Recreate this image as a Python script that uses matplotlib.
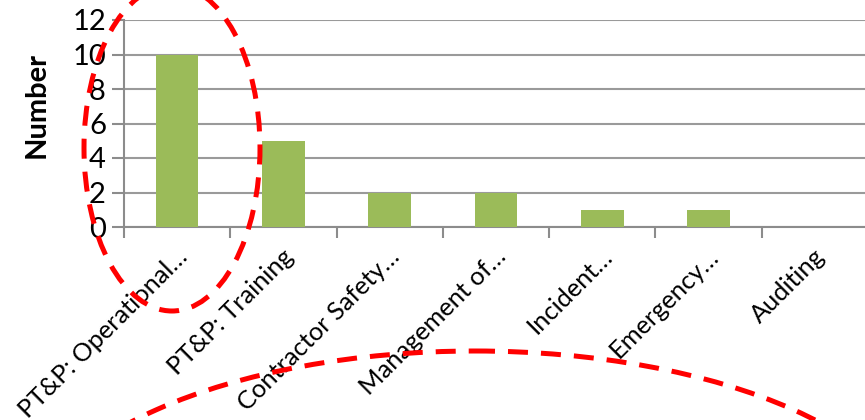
import matplotlib
matplotlib.use("Agg")
import matplotlib.pyplot as plt
import matplotlib.transforms as mtransforms
from matplotlib.patches import Ellipse

categories = ["PT&P: Operational…", "PT&P: Training", "Contractor Safety…",
              "Management of…", "Incident…", "Emergency…", "Auditing"]
counts = [10, 5, 2, 2, 1, 1, 0]
yticks = [0, 2, 4, 6, 8, 10, 12]

plt.rcParams['font.family'] = ['Lato', 'DejaVu Sans']

W, H = 865, 420
fig = plt.figure(figsize=(W / 100, H / 100), dpi=100)
ax = fig.add_axes([124 / W, (H - 227) / H, 744 / W, 207 / H])

x = list(range(len(categories)))
ax.bar(x, counts, width=0.4, color="#9BBB59", zorder=3)

ax.set_xlim(-0.5, len(categories) - 0.5)
ax.set_ylim(0, 12)
ax.set_yticks(yticks)
ax.tick_params(axis="y", labelsize=21, length=9, width=1.5, color="#8C8C8C", pad=4)
ax.yaxis.grid(True, color="#9A9A9A", linewidth=1.5, zorder=0)

ax.set_xticks(x)
ax.set_xticklabels(categories, rotation=45, ha="right", va="top",
                   rotation_mode="anchor", fontsize=18.3)
ax.tick_params(axis="x", which="major", length=0, pad=9)
ax.set_xticks([i - 0.5 for i in range(len(categories) + 1)], minor=True)
ax.tick_params(axis="x", which="minor", length=8, width=1.5, color="#8C8C8C")
shift = mtransforms.ScaledTranslation(-2 / 100, -5 / 100, fig.dpi_scale_trans)
for lab in ax.get_xticklabels():
    lab.set_transform(lab.get_transform() + shift)

for s in ["top", "right"]:
    ax.spines[s].set_visible(False)
for s in ["left", "bottom"]:
    ax.spines[s].set_color("#8C8C8C")
    ax.spines[s].set_linewidth(1.5)

ax.set_ylabel("Number", fontsize=21, fontweight="bold", va="center")
ax.yaxis.set_label_coords(-0.118, 0.589)

# red dashed highlight ellipses drawn over the whole figure (pixel space)
ov = fig.add_axes([0, 0, 1, 1])
ov.set_xlim(0, W)
ov.set_ylim(H, 0)
ov.axis("off")
ov.patch.set_alpha(0)
dash = (0, (4, 2.6))
ov.add_patch(Ellipse((172, 148), 176, 326, fill=False, edgecolor="#FF0000",
                     linewidth=3.6, linestyle=dash))
ov.add_patch(Ellipse((475, 551), 900, 400, fill=False, edgecolor="#FF0000",
                     linewidth=3.6, linestyle=dash))

fig.savefig("out.png", dpi=100)
